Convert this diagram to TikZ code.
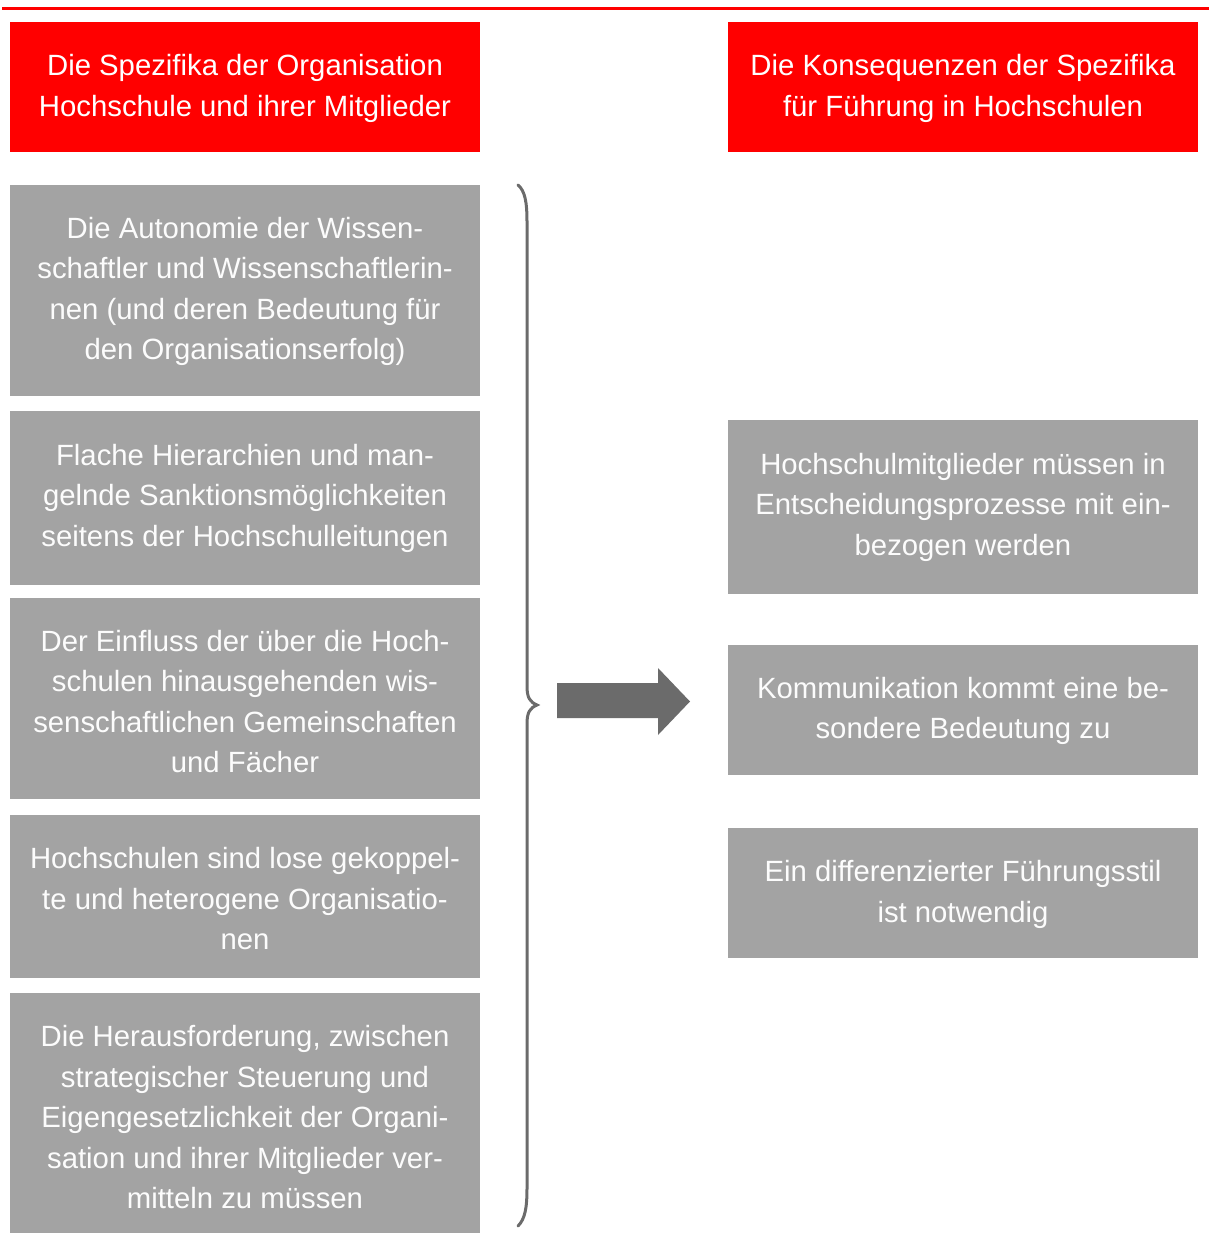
\documentclass[tikz,border=0pt]{standalone}
\usepackage{fontspec}
\setmainfont{Liberation Sans}
\definecolor{hred}{RGB}{255,0,0}
\definecolor{boxgray}{RGB}{163,163,163}
\definecolor{darkg}{RGB}{107,107,107}
\definecolor{txtw}{RGB}{252,252,252}
\begin{document}
\begin{tikzpicture}[x=1pt,y=-1pt,
  base/.style={inner sep=0pt, minimum width=470pt},
  headbox/.style={base, fill=hred},
  graybox/.style={base, fill=boxgray},
  boxtext/.style={inner sep=0pt, align=center, text=txtw,
    font=\fontsize{29.3}{40.5}\selectfont},
  brace/.style={draw=darkg, line width=3pt, line cap=round},
  bigarrow/.style={fill=darkg}]
\useasboundingbox (0,0) rectangle (1209,1233);
\draw[hred, line width=3pt] (2,8.2) -- (1209,8.2);

\node[headbox, minimum height=130pt] (h1) at (245,87) {};
\node[boxtext, text=white] (h1t) at ([yshift=-1.5pt]h1.center) {Die Spezifika der Organisation\\Hochschule und ihrer Mitglieder};
\node[headbox, minimum height=130pt] (h2) at (963,87) {};
\node[boxtext, text=white] (h2t) at ([yshift=-1.5pt]h2.center) {Die Konsequenzen der Spezifika\\für Führung in Hochschulen};

\node[graybox, minimum height=211pt] (l1) at (245,290.5) {};
\node[boxtext] (l1t) at ([yshift=-1pt]l1.center) {Die Autonomie der Wissen-\\schaftler und Wissenschaftlerin-\\nen (und deren Bedeutung für\\den Organisationserfolg)};
\node[graybox, minimum height=174pt] (l2) at (245,498) {};
\node[boxtext] (l2t) at (l2.center) {Flache Hierarchien und man-\\gelnde Sanktionsmöglichkeiten\\seitens der Hochschulleitungen};
\node[graybox, minimum height=201pt] (l3) at (245,698.5) {};
\node[boxtext] (l3t) at ([yshift=-3pt]l3.center) {Der Einfluss der über die Hoch-\\schulen hinausgehenden wis-\\senschaftlichen Gemeinschaften\\und Fächer};
\node[graybox, minimum height=163pt] (l4) at (245,896.5) {};
\node[boxtext] (l4t) at ([yshift=-2.5pt]l4.center) {Hochschulen sind lose gekoppel-\\te und heterogene Organisatio-\\nen};
\node[graybox, minimum height=249pt] (l5) at (245,1117.5) {};
\node[boxtext] (l5t) at (l5.center) {Die Herausforderung, zwischen\\strategischer Steuerung und\\Eigengesetzlichkeit der Organi-\\sation und ihrer Mitglieder ver-\\mitteln zu müssen};

\node[graybox, minimum height=174pt] (r1) at (963,507) {};
\node[boxtext] (r1t) at (r1.center) {Hochschulmitglieder müssen in\\Entscheidungsprozesse mit ein-\\bezogen werden};
\node[graybox, minimum height=130pt] (r2) at (963,710) {};
\node[boxtext] (r2t) at ([yshift=-1pt]r2.center) {Kommunikation kommt eine be-\\sondere Bedeutung zu};
\node[graybox, minimum height=130pt] (r3) at (963,893) {};
\node[boxtext] (r3t) at ([yshift=-1.5pt]r3.center) {Ein differenzierter Führungsstil\\ist notwendig};

\draw[brace] (518,185) .. controls (525,191) and (527,202) .. (527,222)
  -- (527,686) .. controls (527,698) and (530,702) .. (537,705)
  .. controls (530,708) and (527,712) .. (527,724)
  -- (527,1188) .. controls (527,1208) and (525,1219) .. (518,1226);

\fill[bigarrow] (557,683) -- (658,683) -- (658,668) -- (690,701.5) -- (658,735) -- (658,718) -- (557,718) -- cycle;
\end{tikzpicture}
\end{document}
